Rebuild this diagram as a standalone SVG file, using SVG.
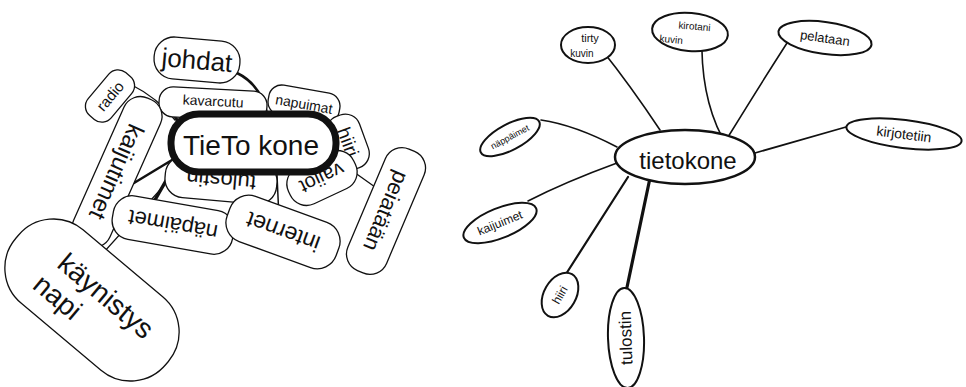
<svg xmlns="http://www.w3.org/2000/svg" width="966" height="387" viewBox="0 0 966 387">
<style>
.b{fill:#fff;stroke:#111;stroke-width:1.3}
.b2{fill:#fff;stroke:#111;stroke-width:2}
.c{fill:none;stroke:#111;stroke-linecap:round}
.t{font-family:"Liberation Sans",Arial,sans-serif;fill:#111;text-anchor:middle;dominant-baseline:central}
</style>
<rect width="966" height="387" fill="#fff"/>
<g id="connectors">
<path class="c" stroke-width="2.5" d="M237,73 Q262,85 268,118"/>
<path class="c" stroke-width="1.3" d="M130,84 Q158,98 175,120"/>
<path class="c" stroke-width="3" d="M172,110 L178,122"/>
<path class="c" stroke-width="3" d="M293,112 L291,121"/>
<path class="c" stroke-width="3" d="M237,172 L237,194"/>
<path class="c" stroke-width="1.5" d="M277,175 L280,240"/>
<path class="c" stroke-width="3" d="M320,172 L330,188"/>
<path class="c" stroke-width="1.3" d="M337,160 L375,187"/>
<path class="c" stroke-width="2.5" d="M172,160 L134,183"/>
<path class="c" stroke-width="3.5" d="M175,165 L136,233"/>
<path class="c" stroke-width="1.3" d="M178,170 L95,262"/>
<path class="c" stroke-width="1.6" d="M660,130 Q630,85 602,50"/>
<path class="c" stroke-width="1.6" d="M722,137 Q700,95 702,33"/>
<path class="c" stroke-width="1.6" d="M728,137 Q760,85 787,43"/>
<path class="c" stroke-width="1.8" d="M755,153 L846,127"/>
<path class="c" stroke-width="1.6" d="M617,147 Q575,125 541,120"/>
<path class="c" stroke-width="1.6" d="M617,163 Q565,182 528,201"/>
<path class="c" stroke-width="2.2" d="M628,177 L566,274"/>
<path class="c" stroke-width="3.2" d="M650,178 L626,292"/>
</g>
<g id="johdat" transform="translate(197,60) rotate(5)"><rect class="b" x="-43" y="-21" width="86" height="42" rx="20"/><text class="t" font-size="26">johdat</text></g>
<g id="radio" transform="translate(110,96) rotate(-50)"><rect class="b" x="-28" y="-15" width="56" height="30" rx="12"/><text class="t" font-size="15">radio</text></g>
<g id="kavarcutu" transform="translate(213,104) rotate(3)"><rect class="b" x="-54" y="-15" width="108" height="30" rx="14"/><text class="t" font-size="14" y="-3">kavarcutu</text></g>
<g id="napuimat" transform="translate(304,104) rotate(10)"><rect class="b" x="-36" y="-15" width="72" height="30" rx="13"/><text class="t" font-size="14">napuimat</text></g>
<g id="hiiri" transform="translate(348,142) rotate(70)"><rect class="b" x="-28" y="-17" width="56" height="34" rx="15"/><text class="t" font-size="19">hiiri</text></g>
<g id="kaijutimet" transform="translate(117,172) rotate(114)"><rect class="b" x="-80" y="-20" width="160" height="40" rx="18"/><text class="t" font-size="24">kaijutimet</text></g>
<g id="peiataan" transform="translate(386,211) rotate(113)"><rect class="b" x="-66" y="-21" width="132" height="42" rx="18"/><text class="t" font-size="22">peiatään</text></g>
<g id="vaiiot" transform="translate(322,178) rotate(-25)"><rect class="b" x="-36" y="-20" width="72" height="40" rx="18"/><text class="t" font-size="20" transform="rotate(180)">vaiiot</text></g>
<g id="tulostin" transform="translate(221,180) rotate(5)"><rect class="b" x="-56" y="-21" width="112" height="42" rx="19"/><text class="t" font-size="22" transform="rotate(180)">tulostin</text></g>
<g id="napaimet" transform="translate(173,225) rotate(10)"><rect class="b" x="-61" y="-22" width="122" height="44" rx="19"/><text class="t" font-size="22" transform="rotate(180)">näpäimet</text></g>
<g id="internet" transform="translate(283,232) rotate(20)"><rect class="b" x="-58" y="-24" width="116" height="48" rx="20"/><text class="t" font-size="23" transform="rotate(180)">internet</text></g>
<g id="kaynistys" transform="translate(92,300) rotate(40)"><rect class="b" x="-98" y="-48" width="196" height="96" rx="46"/><text class="t" font-size="28" x="8" y="-12">käynistys</text><text class="t" font-size="28" x="-28" y="20">napi</text></g>
<g id="tietokone-left"><rect x="171" y="114" width="165" height="58" rx="28" fill="#fff" stroke="#111" stroke-width="7"/><text class="t" font-size="28" x="251" y="145">TieTo kone</text></g>
<g id="tietokone-right"><ellipse cx="685" cy="157" rx="70" ry="27" fill="#fff" stroke="#111" stroke-width="2.5"/><text class="t" font-size="24" x="688" y="160">tietokone</text></g>
<g id="tirty-kuvin"><ellipse class="b2" cx="588" cy="45" rx="27" ry="18"/><text class="t" font-size="11" x="590" y="38">tirty</text><text class="t" font-size="10" x="582" y="53">kuvin</text></g>
<g id="kirotani-kuvin" transform="translate(690,32) rotate(5)"><ellipse class="b2" rx="38" ry="19"/><text class="t" font-size="10" x="4" y="-6">kirotani</text><text class="t" font-size="10" x="-18" y="9">kuvin</text></g>
<g id="pelataan" transform="translate(825,38) rotate(8)"><ellipse class="b2" rx="47" ry="16"/><text class="t" font-size="13">pelataan</text></g>
<g id="kirjotetiin" transform="translate(904,134) rotate(7)"><ellipse class="b2" rx="58" ry="14"/><text class="t" font-size="14">kirjotetiin</text></g>
<g id="nappaimet" transform="translate(510,137) rotate(-28)"><ellipse class="b2" rx="33" ry="13"/><text class="t" font-size="9">näppäimet</text></g>
<g id="kaijuimet" transform="translate(500,223) rotate(-22)"><ellipse class="b2" rx="39" ry="15"/><text class="t" font-size="12">kaijuimet</text></g>
<g id="hiiri-right" transform="translate(560,295) rotate(-60)"><ellipse class="b2" rx="24" ry="16"/><text class="t" font-size="12">hiiri</text></g>
<g id="tulostin-right" transform="translate(626,338) rotate(-2)"><ellipse class="b2" rx="18" ry="50"/><text class="t" font-size="17" transform="rotate(-90)">tulostin</text></g>
</svg>
